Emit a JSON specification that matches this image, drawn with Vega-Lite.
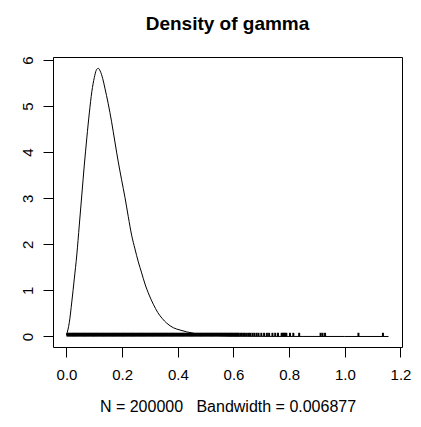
{
  "$schema": "https://vega.github.io/schema/vega-lite/v6.json",
  "width": 349,
  "height": 290,
  "autosize": {"type": "none"},
  "padding": {"left": 53, "top": 57, "right": 19, "bottom": 80},
  "background": "white",
  "title": {
    "text": "Density of gamma",
    "font": "Liberation Sans",
    "fontSize": 19,
    "fontWeight": "bold",
    "color": "black",
    "anchor": "middle",
    "offset": 22
  },
  "config": {
    "view": {"stroke": "black", "strokeWidth": 1},
    "axis": {
      "grid": false,
      "domain": false,
      "tickColor": "black",
      "tickSize": 10,
      "tickWidth": 1,
      "labelFont": "Liberation Sans",
      "labelFontSize": 15,
      "labelColor": "black",
      "titleFont": "Liberation Sans",
      "titleFontSize": 16,
      "titleFontWeight": "normal",
      "titleColor": "black"
    }
  },
  "datasets": {
    "density": [
      {"x": 0.000, "y": 0.03}, {"x": 0.010, "y": 0.30}, {"x": 0.019, "y": 0.75},
      {"x": 0.028, "y": 1.25}, {"x": 0.037, "y": 1.77}, {"x": 0.046, "y": 2.42},
      {"x": 0.055, "y": 3.07}, {"x": 0.064, "y": 3.72}, {"x": 0.073, "y": 4.31},
      {"x": 0.082, "y": 4.85}, {"x": 0.091, "y": 5.31}, {"x": 0.100, "y": 5.62},
      {"x": 0.107, "y": 5.78}, {"x": 0.114, "y": 5.82}, {"x": 0.121, "y": 5.76},
      {"x": 0.130, "y": 5.60}, {"x": 0.138, "y": 5.39}, {"x": 0.150, "y": 5.05},
      {"x": 0.162, "y": 4.66}, {"x": 0.174, "y": 4.22}, {"x": 0.186, "y": 3.79},
      {"x": 0.198, "y": 3.40}, {"x": 0.210, "y": 3.02}, {"x": 0.222, "y": 2.60},
      {"x": 0.234, "y": 2.20}, {"x": 0.246, "y": 1.90}, {"x": 0.258, "y": 1.62},
      {"x": 0.270, "y": 1.38}, {"x": 0.282, "y": 1.14}, {"x": 0.297, "y": 0.90},
      {"x": 0.312, "y": 0.70}, {"x": 0.328, "y": 0.52}, {"x": 0.344, "y": 0.39},
      {"x": 0.360, "y": 0.29}, {"x": 0.384, "y": 0.19}, {"x": 0.408, "y": 0.14},
      {"x": 0.432, "y": 0.10}, {"x": 0.456, "y": 0.07}, {"x": 0.490, "y": 0.045},
      {"x": 0.530, "y": 0.025}, {"x": 0.580, "y": 0.013}, {"x": 0.650, "y": 0.006},
      {"x": 0.750, "y": 0.002}, {"x": 0.850, "y": 0.001}, {"x": 1.000, "y": 0.0005},
      {"x": 1.157, "y": 0.0}
    ],
    "rug": [
      {"x":0.003},{"x":0.007},{"x":0.011},{"x":0.015},{"x":0.019},{"x":0.023},{"x":0.027},{"x":0.031},{"x":0.035},{"x":0.039},
      {"x":0.043},{"x":0.047},{"x":0.051},{"x":0.055},{"x":0.059},{"x":0.063},{"x":0.067},{"x":0.071},{"x":0.075},{"x":0.079},
      {"x":0.083},{"x":0.087},{"x":0.091},{"x":0.095},{"x":0.099},{"x":0.103},{"x":0.107},{"x":0.111},{"x":0.115},{"x":0.119},
      {"x":0.123},{"x":0.127},{"x":0.131},{"x":0.135},{"x":0.139},{"x":0.143},{"x":0.147},{"x":0.151},{"x":0.155},{"x":0.159},
      {"x":0.163},{"x":0.167},{"x":0.171},{"x":0.175},{"x":0.179},{"x":0.183},{"x":0.187},{"x":0.191},{"x":0.195},{"x":0.199},
      {"x":0.203},{"x":0.207},{"x":0.211},{"x":0.215},{"x":0.219},{"x":0.223},{"x":0.227},{"x":0.231},{"x":0.235},{"x":0.239},
      {"x":0.243},{"x":0.247},{"x":0.251},{"x":0.255},{"x":0.259},{"x":0.263},{"x":0.267},{"x":0.271},{"x":0.275},{"x":0.279},
      {"x":0.283},{"x":0.287},{"x":0.291},{"x":0.295},{"x":0.299},{"x":0.303},{"x":0.307},{"x":0.311},{"x":0.315},{"x":0.319},
      {"x":0.323},{"x":0.327},{"x":0.331},{"x":0.335},{"x":0.339},{"x":0.343},{"x":0.347},{"x":0.351},{"x":0.355},{"x":0.359},
      {"x":0.363},{"x":0.367},{"x":0.371},{"x":0.375},{"x":0.379},{"x":0.383},{"x":0.387},{"x":0.391},{"x":0.395},{"x":0.399},
      {"x":0.403},{"x":0.407},{"x":0.411},{"x":0.415},{"x":0.419},{"x":0.423},{"x":0.427},{"x":0.431},{"x":0.435},{"x":0.439},
      {"x":0.443},{"x":0.447},{"x":0.451},{"x":0.455},{"x":0.459},{"x":0.463},{"x":0.467},{"x":0.471},{"x":0.475},{"x":0.479},
      {"x":0.483},{"x":0.487},{"x":0.491},{"x":0.495},{"x":0.499},{"x":0.503},{"x":0.507},{"x":0.511},{"x":0.515},{"x":0.519},
      {"x":0.523},{"x":0.527},{"x":0.531},{"x":0.535},{"x":0.539},{"x":0.543},{"x":0.547},{"x":0.551},{"x":0.555},{"x":0.559},
      {"x":0.563},{"x":0.567},{"x":0.571},{"x":0.575},{"x":0.579},{"x":0.583},{"x":0.587},{"x":0.591},{"x":0.595},{"x":0.599},
      {"x":0.603},{"x":0.607},{"x":0.611},{"x":0.615},{"x":0.619},
      {"x":0.625},{"x":0.630},{"x":0.636},{"x":0.641},{"x":0.648},{"x":0.655},{"x":0.660},{"x":0.668},{"x":0.675},{"x":0.683},
      {"x":0.690},{"x":0.700},{"x":0.710},{"x":0.720},{"x":0.728},{"x":0.740},{"x":0.750},{"x":0.760},{"x":0.773},{"x":0.777},
      {"x":0.781},{"x":0.785},{"x":0.790},{"x":0.803},{"x":0.815},{"x":0.836},{"x":0.913},{"x":0.920},{"x":0.929},{"x":1.049},
      {"x":1.137}
    ]
  },
  "layer": [
    {
      "data": {"name": "rug"},
      "mark": {"type": "rule", "color": "black", "strokeWidth": 2},
      "encoding": {
        "x": {
          "field": "x",
          "type": "quantitative",
          "scale": {"domain": [-0.0485, 1.2055], "nice": false, "zero": false},
          "axis": {
            "values": [0, 0.2, 0.4, 0.6, 0.8, 1.0, 1.2],
            "format": ".1f",
            "labelPadding": 10,
            "title": "N = 200000\u00a0\u00a0\u00a0Bandwidth = 0.006877",
            "titlePadding": 16
          }
        },
        "y": {
          "datum": 0,
          "type": "quantitative",
          "scale": {"domain": [-0.228, 6.065], "nice": false, "zero": false},
          "axis": {
            "values": [0, 1, 2, 3, 4, 5, 6],
            "labelAngle": -90,
            "labelAlign": "center",
            "labelBaseline": "bottom",
            "labelPadding": 8,
            "title": null
          }
        },
        "y2": {"datum": 0.08}
      }
    },
    {
      "data": {"name": "density"},
      "mark": {"type": "line", "color": "black", "strokeWidth": 1, "interpolate": "monotone"},
      "encoding": {
        "x": {"field": "x", "type": "quantitative"},
        "y": {"field": "y", "type": "quantitative"}
      }
    }
  ]
}
